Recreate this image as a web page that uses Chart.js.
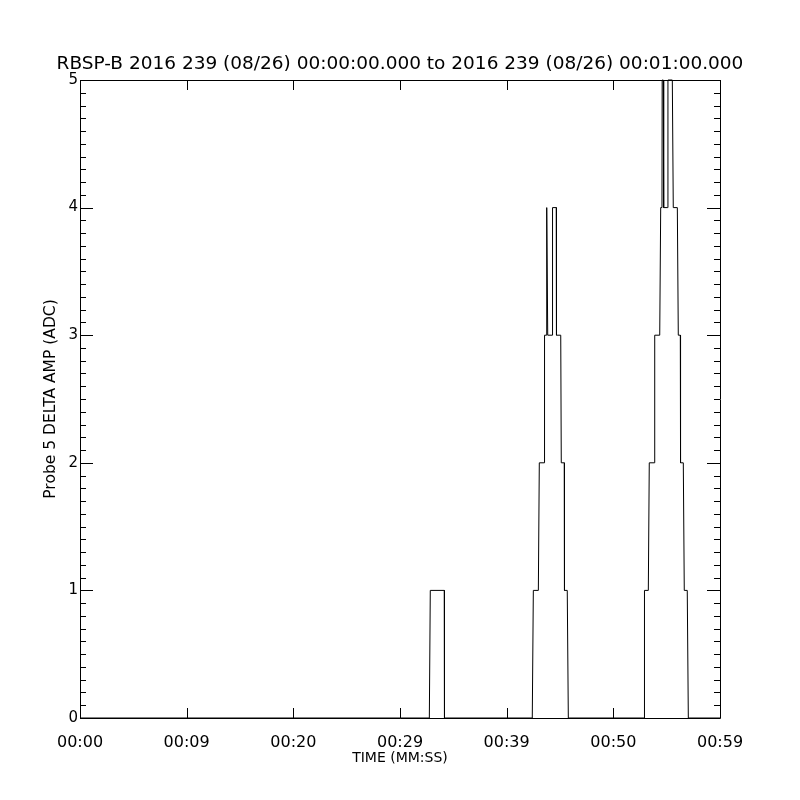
<html>
<head>
<script src="https://cdn.jsdelivr.net/npm/chart.js@4.4.1/dist/chart.umd.min.js"></script>
</head>
<body style="margin:0; background:#fff;">
    <canvas id="myChart" width="800" height="800"></canvas>
</body>

<script>
    // seconds since 00:00:00 and ADC value at each vertex of the trace
    var times = [0, 32.75, 32.84, 34.15, 34.17,
        42.40, 42.50, 42.97, 43.06, 43.53, 43.55, 43.72, 43.73, 43.78, 43.85,
        44.28, 44.30, 44.65, 44.67, 45.07, 45.12, 45.40, 45.42, 45.68, 45.78,
        52.90, 52.92, 53.28, 53.37, 53.84, 53.88, 54.35, 54.44, 54.56, 54.58,
        54.68, 54.72, 55.10, 55.12, 55.53, 55.62, 56.00, 56.09, 56.28, 56.30,
        56.56, 56.65, 56.93, 57.03, 60];
    var amp = [0, 0, 1, 1, 0,
        0, 1, 1, 2, 2, 3, 3, 4, 4, 3,
        3, 4, 4, 3, 3, 2, 2, 1, 1, 0,
        0, 1, 1, 2, 2, 3, 3, 4, 4, 5,
        5, 4, 4, 5, 5, 4, 4, 3, 3, 2,
        2, 1, 1, 0, 0];
    var xTickLabels = ["00:00", "00:09", "00:20", "00:29", "00:39", "00:50", "00:59"];
    var yTickLabels = ["0", "1", "2", "3", "4", "5"];
    var titleText = "RBSP-B 2016 239 (08/26) 00:00:00.000 to 2016 239 (08/26) 00:01:00.000";

    var pts = [];
    for (var i = 0; i < times.length; i++) {
        pts.push({ x: times[i], y: amp[i] });
    }

    // frame + inward ticks like the IDL plot, title centred on the page
    var frameTicks = {
        id: "frameTicks",
        afterDraw: function (chart) {
            var ctx = chart.ctx;
            var a = chart.chartArea;
            var xs = chart.scales.x;
            var ys = chart.scales.y;
            ctx.save();
            ctx.strokeStyle = "#000";
            ctx.lineWidth = 1;
            ctx.beginPath();
            ctx.rect(Math.round(a.left) + 0.5, Math.round(a.top) + 0.5,
                Math.round(a.right - a.left), Math.round(a.bottom - a.top));
            ctx.stroke();
            ctx.beginPath();
            for (var k = 0; k <= 50; k++) {
                var py = Math.round(ys.getPixelForValue(k / 10)) + 0.5;
                var len = (k % 10 == 0) ? 13 : 6;
                ctx.moveTo(a.left, py); ctx.lineTo(a.left + len, py);
                ctx.moveTo(a.right, py); ctx.lineTo(a.right - len, py);
            }
            for (var m = 0; m <= 60; m += 10) {
                var px = Math.round(xs.getPixelForValue(m)) + 0.5;
                ctx.moveTo(px, a.bottom); ctx.lineTo(px, a.bottom - 10);
                ctx.moveTo(px, a.top); ctx.lineTo(px, a.top + 10);
            }
            ctx.stroke();
            ctx.fillStyle = "#000";
            ctx.font = "18.5px 'DejaVu Sans'";
            ctx.textAlign = "center";
            ctx.textBaseline = "middle";
            ctx.fillText(titleText, 400, 64);
            ctx.restore();
        }
    };

    new Chart("myChart", {
        type: "line",
        data: {
            datasets: [{
                data: pts,
                borderColor: "#000",
                borderWidth: 1,
                pointRadius: 0,
                tension: 0,
                fill: false,
                clip: false
            }]
        },
        options: {
            responsive: false,
            animation: false,
            layout: { padding: { left: 0, right: 80, top: 80, bottom: 0 } },
            plugins: {
                legend: { display: false },
                tooltip: { enabled: false }
            },
            scales: {
                x: {
                    type: "linear",
                    min: 0,
                    max: 60,
                    grid: { display: false, drawTicks: false },
                    border: { display: false },
                    afterFit: function (s) { s.height = 82; },
                    afterBuildTicks: function (s) {
                        s.ticks = xTickLabels.map(function (l, i) { return { value: i * 10 }; });
                    },
                    ticks: {
                        color: "#000",
                        font: { family: "DejaVu Sans", size: 16 },
                        padding: 15,
                        maxRotation: 0,
                        autoSkip: false,
                        callback: function (v) { return xTickLabels[Math.round(v / 10)]; }
                    },
                    title: {
                        display: true,
                        text: "TIME (MM:SS)",
                        color: "#000",
                        font: { family: "DejaVu Sans", size: 14 },
                        padding: { top: 0, bottom: 33 }
                    }
                },
                y: {
                    min: 0,
                    max: 5,
                    grid: { display: false, drawTicks: false },
                    border: { display: false },
                    afterFit: function (s) { s.width = 80; },
                    ticks: {
                        stepSize: 1,
                        color: "#000",
                        font: { family: "DejaVu Sans", size: 15 },
                        padding: 2,
                        callback: function (v) { return yTickLabels[v]; }
                    },
                    title: {
                        display: true,
                        text: "Probe 5 DELTA AMP (ADC)",
                        color: "#000",
                        font: { family: "DejaVu Sans", size: 15.5 },
                        padding: { top: 42, bottom: 0 }
                    }
                }
            }
        },
        plugins: [frameTicks]
    });
</script>
</html>
